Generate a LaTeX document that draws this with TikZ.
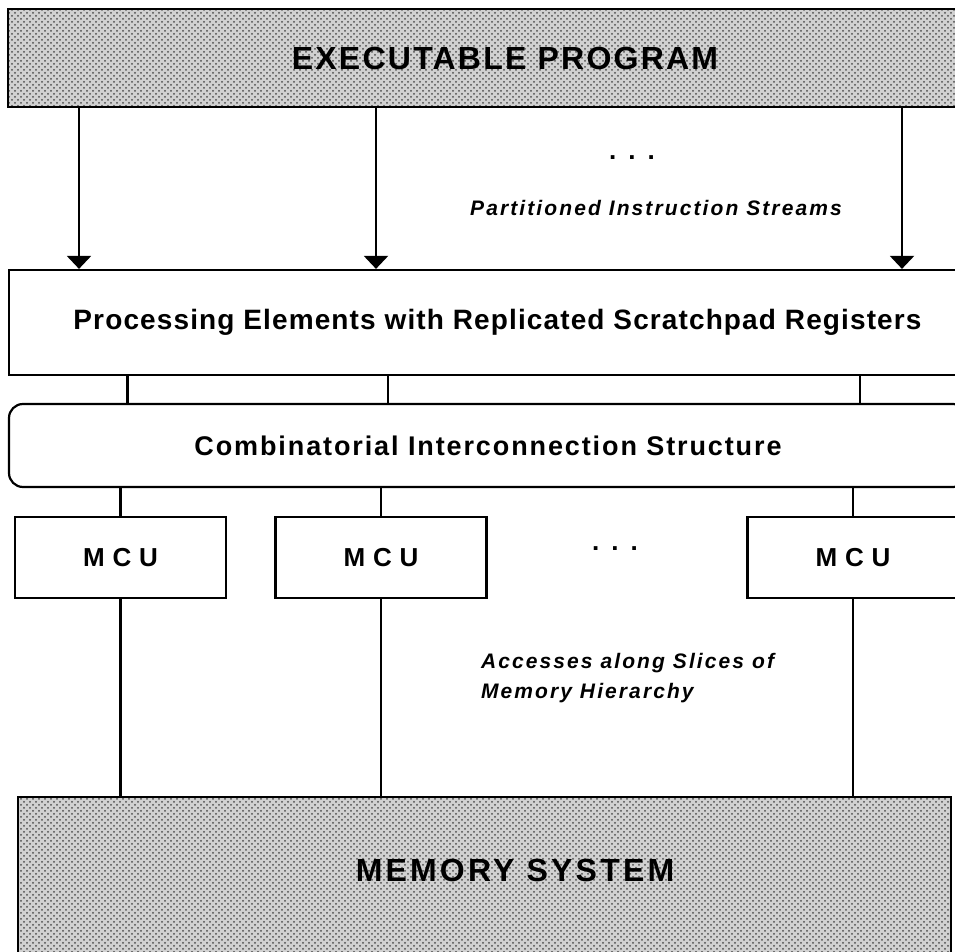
\documentclass[tikz,border=0pt]{standalone}
\usepackage{fontspec}
\setmainfont{Liberation Sans}
\usetikzlibrary{arrows.meta,patterns}
\begin{document}
\begin{tikzpicture}[x=0.5pt,y=-0.5pt,
    box/.style={draw,line width=1.1pt,inner sep=0pt},
    shadebox/.style={box,preaction={fill=black!18},pattern=crosshatch dots,pattern color=black!70},
    mcu/.style={box,minimum width=105.5pt,minimum height=40.5pt,font=\fontsize{13}{15}\selectfont\bfseries\addfontfeature{LetterSpace=30}},
    wire/.style={line width=1.1pt},
    stream/.style={wire,-{Triangle[width=12pt,length=6.5pt]}},
    head/.style={font=\fontsize{16}{19}\selectfont\bfseries\addfontfeature{LetterSpace=7}},
    note/.style={font=\fontsize{10.5}{15}\selectfont\bfseries\itshape\addfontfeature{LetterSpace=10}}]
    \useasboundingbox (0,0) rectangle (955,952);
    \clip (0,0) rectangle (955,952);

    \node[shadebox,head,minimum width=497pt,minimum height=49pt] (exe) at (505,58) {EXECUTABLE PROGRAM};
    \node[box,minimum width=488.5pt,minimum height=52.5pt,font=\fontsize{14}{16}\selectfont\bfseries\addfontfeature{LetterSpace=4}] (pe) at (497.5,322.5) {Processing Elements with Replicated Scratchpad Registers};
    \node[box,rounded corners=7pt,minimum width=479pt,minimum height=41.5pt,font=\fontsize{13.5}{15}\selectfont\bfseries\addfontfeature{LetterSpace=7}] (ic) at (488,445.5) {Combinatorial Interconnection Structure};

    \node[mcu] (mcu1) at (120.5,557.5) {MCU};
    \node[mcu] (mcu2) at (381,557.5) {MCU};
    \node[mcu] (mcu3) at (853,557.5) {MCU};

    \node[shadebox,anchor=north west,minimum width=466.5pt,minimum height=132pt] (mem) at (17,796) {};
    \node[head,font=\fontsize{16}{19}\selectfont\bfseries\addfontfeature{LetterSpace=10}] (memlabel) at (515,870) {MEMORY SYSTEM};

    \node[font=\fontsize{13}{15}\selectfont\bfseries] (dots1) at (632,158) {.\hspace{6pt}.\hspace{6pt}.};
    \node[font=\fontsize{13}{15}\selectfont\bfseries] (dots2) at (615,549) {.\hspace{6pt}.\hspace{6pt}.};
    \node[note] (streams) at (656,208) {Partitioned Instruction Streams};
    \node[note,anchor=west,align=left] (access) at (474,678) {Accesses along Slices of\\Memory Hierarchy};

    \coordinate (s1) at (79,0);
    \coordinate (s2) at (376,0);
    \coordinate (s3) at (902,0);
    \foreach \s in {s1,s2,s3}
        \draw[stream] (exe.south -| \s) -- (pe.north -| \s);

    \foreach \m in {mcu1,mcu2,mcu3} {
        \draw[wire] ([xshift=3.5pt]\m.north |- pe.south) -- ([xshift=3.5pt]\m.north |- ic.north);
        \draw[wire] (\m.north |- ic.south) -- (\m.north);
        \draw[wire] (\m.south) -- (\m.south |- mem.north);
    }
\end{tikzpicture}
\end{document}
